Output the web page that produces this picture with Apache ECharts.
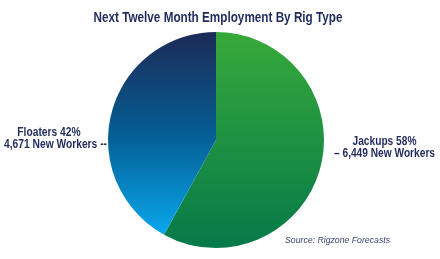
<!DOCTYPE html>
<html><head><meta charset="utf-8">
<script src="https://cdn.jsdelivr.net/npm/echarts@6/dist/echarts.min.js"></script>
<style>html,body{margin:0;padding:0;background:#fff}#c{width:440px;height:259px}</style>
</head><body><div id="c"></div>
<script>
const titleText = 'Next Twelve Month Employment By Rig Type';
const sourceText = 'Source: Rigzone Forecasts';
const categories = ['Jackups', 'Floaters'];
const newWorkers = [6449, 4671];

const FONT = '"Liberation Sans", Arial, sans-serif';
const NAVY = '#1f2b5c';

const total = newWorkers.reduce((a, b) => a + b, 0);
const pct = newWorkers.map(v => Math.round(v / total * 100));

const ctx = document.createElement('canvas').getContext('2d');
function measure(text, size, weight, style) {
  ctx.font = (style || 'normal') + ' ' + (weight || 'normal') + ' ' + size + 'px ' + FONT;
  return ctx.measureText(text).width;
}
function condensedText(text, x, y, size, targetWidth, opts) {
  opts = opts || {};
  const w = measure(text, size, opts.weight || 'bold', opts.style);
  const s = opts.scale || targetWidth / w;
  return {
    type: 'text', x: x, y: y, scaleX: s, silent: true,
    style: {
      text: text, fontFamily: FONT, fontSize: size,
      fontWeight: opts.weight || 'bold', fontStyle: opts.style || 'normal',
      fill: opts.color || NAVY, align: 'center', verticalAlign: 'middle'
    }
  };
}

// label lines from the data
const jLine1 = categories[0] + ' ' + pct[0] + '%';
const jLine2 = '– ' + newWorkers[0].toLocaleString('en-US') + ' New Workers';
const fLine1 = categories[1] + ' ' + pct[1] + '%';
const fLine2 = newWorkers[1].toLocaleString('en-US') + ' New Workers --';

const LS = 12.5;
const fScale = 103 / measure(fLine2, LS, 'bold');
const jScale = 101 / measure(jLine2, LS, 'bold');

const colors = [
  new echarts.graphic.LinearGradient(0, 0, 0, 1, [
    {offset: 0, color: '#37a93a'}, {offset: 1, color: '#06794a'}
  ]),
  new echarts.graphic.LinearGradient(0, 0, 0, 1, [
    {offset: 0, color: '#1c2a56'}, {offset: 0.5, color: '#055d93'}, {offset: 1, color: '#09a7ec'}
  ])
];

const chart = echarts.init(document.getElementById('c'), null, {renderer: 'canvas'});
chart.setOption({
  animation: false,
  graphic: [
    condensedText(titleText, 218, 17.8, 15, 249),
    condensedText(fLine1, 49, 132.5, LS, 0, {scale: fScale}),
    condensedText(fLine2, 55.5, 145, LS, 0, {scale: fScale}),
    condensedText(jLine1, 384.5, 141.5, LS, 0, {scale: jScale}),
    condensedText(jLine2, 384.5, 154, LS, 0, {scale: jScale}),
    condensedText(sourceText, 337.5, 240, 9, 105, {weight: 'normal', style: 'italic', color: '#3b4677'})
  ],
  series: [{
    type: 'pie',
    center: [216, 140],
    radius: 108,
    startAngle: 90,
    clockwise: true,
    itemStyle: {borderWidth: 0},
    emphasis: {disabled: true},
    label: {show: false},
    labelLine: {show: false},
    data: categories.map((c, i) => ({name: c, value: newWorkers[i], itemStyle: {color: colors[i]}}))
  }]
});
</script></body></html>
